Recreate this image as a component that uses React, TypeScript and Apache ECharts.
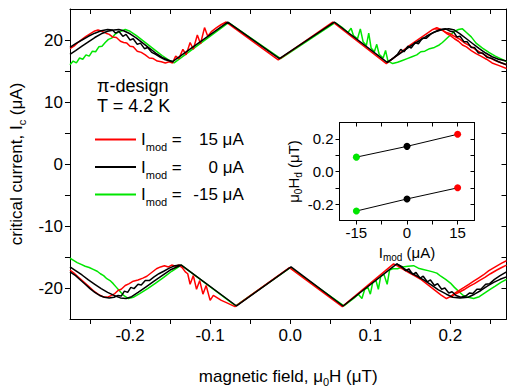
import React, { useEffect, useRef } from "react";
import * as echarts from "echarts";

const FONT = "'Liberation Sans', Arial, Helvetica, sans-serif";
const RED = "#ff0000";
const BLACK = "#000000";
const GREEN = "#00e600";

// Critical current vs. field, positive branch (µT, µA)
const redUpA: number[][] = [
  [-0.275, 18.6], [-0.27, 19.0], [-0.265, 19.6], [-0.26, 20.1], [-0.255, 20.6], [-0.25, 21.0],
  [-0.245, 21.4], [-0.24, 21.6], [-0.235, 21.4], [-0.23, 21.1], [-0.226, 20.9], [-0.222, 20.5],
  [-0.217, 20.4], [-0.212, 19.8], [-0.208, 19.6], [-0.204, 19.5], [-0.2, 19.0], [-0.196, 18.9],
  [-0.191, 18.2], [-0.186, 18.0], [-0.181, 17.6], [-0.176, 17.1], [-0.171, 17.0], [-0.166, 16.6],
  [-0.161, 16.5], [-0.156, 16.3], [-0.151, 16.5], [-0.147, 16.3], [-0.143, 17.4], [-0.139, 17.0],
  [-0.134, 18.5], [-0.13, 17.6], [-0.125, 19.6], [-0.121, 18.5], [-0.116, 20.8], [-0.112, 19.4],
  [-0.107, 22.0], [-0.103, 20.6], [-0.098, 21.4], [-0.092, 22.0], [-0.086, 22.5], [-0.08, 22.9],
  [-0.015, 16.8], [0.053, 22.9], [0.12, 16.2], [0.13, 17.2], [0.14, 18.2], [0.15, 19.2],
  [0.16, 20.1], [0.17, 21.0], [0.178, 21.7], [0.183, 22.0], [0.19, 21.6], [0.196, 21.0],
  [0.2, 20.7], [0.205, 20.2], [0.21, 19.8], [0.215, 19.2], [0.22, 18.9], [0.226, 18.3],
  [0.232, 17.8], [0.238, 17.4], [0.245, 16.9], [0.252, 16.3], [0.26, 15.9], [0.27, 15.4],
];
const redUpB: number[][] = [
  [0.18, 21.8], [0.188, 21.7], [0.195, 21.2], [0.2, 21.0], [0.205, 20.6], [0.212, 20.1],
  [0.218, 19.5], [0.225, 19.0], [0.232, 18.4], [0.24, 17.8], [0.248, 17.2], [0.256, 16.7],
  [0.264, 16.3], [0.27, 16.0],
];
const blackUpA: number[][] = [
  [-0.275, 17.7], [-0.268, 18.3], [-0.26, 19.0], [-0.252, 19.7], [-0.244, 20.4], [-0.236, 21.0],
  [-0.228, 21.4], [-0.22, 21.6], [-0.214, 21.7], [-0.208, 21.5], [-0.2, 21.0], [-0.192, 20.3],
  [-0.184, 19.5], [-0.176, 18.7], [-0.168, 17.9], [-0.16, 17.2], [-0.153, 16.8], [-0.147, 16.5],
  [-0.078, 22.9], [-0.0135, 17.0], [0.055, 22.9], [0.121, 16.4], [0.13, 17.2], [0.14, 18.1],
  [0.15, 19.0], [0.16, 19.8], [0.17, 20.6], [0.18, 21.3], [0.19, 21.7], [0.198, 21.8],
  [0.205, 21.6], [0.212, 21.0], [0.22, 20.2], [0.228, 19.4], [0.236, 18.6], [0.244, 17.9],
  [0.252, 17.3], [0.26, 16.9], [0.27, 16.6],
];
const blackUpB: number[][] = [
  [-0.275, 18.8], [-0.268, 19.4], [-0.26, 20.0], [-0.252, 20.6], [-0.244, 21.1], [-0.236, 21.5],
  [-0.228, 21.7], [-0.222, 21.6], [-0.218, 21.1], [-0.214, 21.4], [-0.209, 20.6], [-0.205, 20.9],
  [-0.2, 20.0], [-0.196, 20.2], [-0.191, 19.3], [-0.187, 19.5], [-0.182, 18.6], [-0.178, 18.8],
  [-0.173, 18.0], [-0.168, 17.7], [-0.162, 17.2], [-0.156, 16.8], [-0.15, 16.6], [-0.146, 16.5],
];
const blackUpC: number[][] = [
  [0.121, 16.4], [0.128, 17.0], [0.134, 17.7], [0.138, 18.5], [0.142, 18.1], [0.147, 19.0],
  [0.151, 18.7], [0.156, 19.6], [0.16, 19.4], [0.165, 20.3], [0.17, 20.3], [0.176, 21.0],
  [0.182, 21.4], [0.188, 21.7], [0.194, 21.8], [0.2, 21.4], [0.204, 21.3], [0.208, 20.5],
  [0.212, 20.6], [0.217, 19.7], [0.221, 19.7], [0.226, 18.8], [0.23, 18.8], [0.235, 17.9],
  [0.24, 17.9], [0.246, 17.2], [0.252, 17.0], [0.26, 16.5], [0.27, 16.0],
];
const greenUp: number[][] = [
  [-0.275, 16.0], [-0.271, 16.6], [-0.267, 16.3], [-0.263, 17.1], [-0.259, 16.9], [-0.255, 17.6],
  [-0.251, 17.4], [-0.247, 18.2], [-0.243, 18.1], [-0.239, 18.9], [-0.235, 19.0], [-0.231, 19.6],
  [-0.227, 20.1], [-0.223, 20.3], [-0.219, 20.9], [-0.214, 21.3], [-0.206, 21.7], [-0.2, 21.4],
  [-0.192, 20.7], [-0.184, 19.9], [-0.176, 19.1], [-0.168, 18.3], [-0.16, 17.5], [-0.152, 16.8],
  [-0.145, 16.3], [-0.077, 22.8], [-0.012, 17.0], [0.056, 22.8], [0.066, 21.9], [0.072, 21.2],
  [0.076, 21.9], [0.079, 20.7], [0.084, 20.2], [0.0875, 21.8], [0.091, 19.7], [0.095, 19.1],
  [0.098, 21.1], [0.101, 18.7], [0.105, 18.1], [0.108, 19.3], [0.111, 17.7], [0.116, 17.1],
  [0.119, 18.3], [0.122, 16.6], [0.128, 16.2], [0.134, 16.4], [0.14, 16.7], [0.146, 17.0],
  [0.152, 17.3], [0.158, 17.6], [0.163, 18.1], [0.168, 18.2], [0.174, 18.6], [0.18, 18.8],
  [0.186, 19.2], [0.19, 19.6], [0.195, 20.2], [0.2, 20.8], [0.205, 21.4], [0.21, 21.7],
  [0.215, 21.8], [0.22, 21.2], [0.226, 20.5], [0.232, 19.5], [0.24, 18.7], [0.248, 18.0],
  [0.256, 17.4], [0.264, 16.9], [0.27, 16.5],
];

// Negative branch
const redDownA: number[][] = [
  [-0.275, -17.1], [-0.27, -17.6], [-0.264, -18.3], [-0.258, -19.0], [-0.252, -19.7], [-0.246, -20.4],
  [-0.24, -21.0], [-0.234, -21.4], [-0.228, -21.5], [-0.223, -21.2], [-0.219, -20.9], [-0.215, -20.4],
  [-0.211, -20.2], [-0.206, -19.6], [-0.201, -19.3], [-0.196, -18.9], [-0.19, -18.7], [-0.184, -18.4],
  [-0.179, -18.1], [-0.175, -17.7], [-0.171, -17.3], [-0.167, -16.9], [-0.162, -16.6], [-0.157, -16.4],
  [-0.152, -16.6], [-0.148, -16.3], [-0.143, -16.5], [-0.139, -16.3], [-0.135, -16.7], [-0.131, -17.4],
  [-0.128, -17.7], [-0.125, -19.4], [-0.121, -18.0], [-0.117, -20.2], [-0.113, -18.8], [-0.109, -21.0],
  [-0.105, -19.6], [-0.1, -22.0], [-0.096, -21.2], [-0.092, -21.5], [-0.086, -22.0], [-0.079, -22.4],
  [-0.069, -23.0], [-0.001, -16.7], [0.065, -23.0], [0.129, -16.1], [0.135, -16.5], [0.14, -16.9],
  [0.148, -17.5], [0.156, -18.1], [0.164, -18.7], [0.172, -19.5], [0.18, -20.3], [0.188, -21.1],
  [0.195, -21.7], [0.2, -21.4], [0.206, -20.8], [0.212, -20.3], [0.217, -19.9], [0.223, -19.4],
  [0.229, -18.9], [0.235, -18.4], [0.241, -17.9], [0.248, -17.2], [0.256, -16.6], [0.264, -16.0],
  [0.27, -15.6],
];
const redDownB: number[][] = [
  [0.2, -21.5], [0.206, -21.0], [0.212, -20.6], [0.218, -20.2], [0.224, -19.7], [0.23, -19.3],
  [0.236, -18.8], [0.243, -18.3], [0.25, -17.7], [0.258, -17.1], [0.264, -16.7], [0.27, -16.3],
];
const blackDownA: number[][] = [
  [-0.275, -16.6], [-0.268, -17.2], [-0.26, -17.9], [-0.252, -18.7], [-0.244, -19.4], [-0.236, -20.1],
  [-0.228, -20.7], [-0.22, -21.2], [-0.212, -21.6], [-0.205, -21.7], [-0.198, -21.4], [-0.19, -20.7],
  [-0.18, -19.8], [-0.17, -18.9], [-0.16, -18.0], [-0.15, -17.1], [-0.136, -16.3], [-0.067, -22.9],
  [0.001, -16.6], [0.066, -22.9], [0.133, -16.1], [0.14, -16.7], [0.15, -17.5], [0.16, -18.2],
  [0.168, -18.8], [0.176, -19.5], [0.185, -20.3], [0.195, -21.0], [0.203, -21.5], [0.212, -21.6],
  [0.222, -21.5], [0.23, -21.0], [0.238, -20.4], [0.246, -19.7], [0.254, -19.1], [0.262, -18.6],
  [0.27, -18.2],
];
const blackDownB: number[][] = [
  [-0.275, -17.4], [-0.268, -18.0], [-0.262, -18.7], [-0.256, -19.4], [-0.25, -20.1], [-0.244, -20.7],
  [-0.238, -21.2], [-0.232, -21.5], [-0.226, -21.6], [-0.22, -21.5], [-0.215, -21.2], [-0.211, -21.3],
  [-0.207, -20.5], [-0.203, -20.7], [-0.199, -19.9], [-0.195, -20.1], [-0.19, -19.4], [-0.186, -19.5],
  [-0.181, -18.8], [-0.176, -18.8], [-0.17, -18.2], [-0.164, -17.7], [-0.158, -17.3], [-0.151, -16.8],
  [-0.144, -16.4], [-0.137, -16.3],
];
const blackDownC: number[][] = [
  [0.133, -16.1], [0.139, -16.5], [0.144, -17.2], [0.148, -16.9], [0.153, -17.8], [0.157, -17.5],
  [0.162, -18.4], [0.166, -18.1], [0.171, -19.0], [0.175, -18.7], [0.18, -19.6], [0.184, -19.3],
  [0.189, -20.2], [0.193, -20.0], [0.198, -20.8], [0.202, -20.6], [0.207, -21.2], [0.213, -21.5],
  [0.219, -21.3], [0.224, -20.8], [0.228, -20.9], [0.233, -20.2], [0.238, -20.2], [0.244, -19.4],
  [0.249, -19.3], [0.255, -18.6], [0.262, -18.0], [0.27, -17.4],
];
const greenDown: number[][] = [
  [-0.275, -15.2], [-0.271, -15.5], [-0.266, -15.9], [-0.261, -16.2], [-0.256, -16.5], [-0.251, -16.7],
  [-0.246, -17.0], [-0.241, -17.3], [-0.237, -17.7], [-0.233, -18.0], [-0.229, -18.5], [-0.225, -18.8],
  [-0.221, -19.3], [-0.217, -19.9], [-0.213, -20.5], [-0.208, -21.2], [-0.202, -21.7], [-0.196, -21.5],
  [-0.188, -20.9], [-0.178, -20.1], [-0.168, -19.2], [-0.158, -18.3], [-0.148, -17.3], [-0.136, -16.3],
  [-0.068, -22.9], [0.0, -16.7], [0.067, -22.9], [0.075, -22.1], [0.08, -21.6], [0.085, -21.0],
  [0.0895, -21.7], [0.093, -20.2], [0.097, -19.9], [0.1, -21.0], [0.103, -19.1], [0.107, -18.8],
  [0.11, -20.2], [0.113, -18.1], [0.117, -17.8], [0.121, -19.4], [0.124, -17.1], [0.128, -16.9],
  [0.134, -16.9], [0.14, -16.6], [0.147, -16.5], [0.154, -16.4], [0.16, -16.8], [0.166, -17.0],
  [0.172, -17.2], [0.178, -17.4], [0.183, -17.6], [0.188, -18.1], [0.194, -18.6], [0.2, -19.2],
  [0.205, -19.9], [0.21, -20.5], [0.216, -21.2], [0.222, -21.5], [0.229, -21.7], [0.236, -21.4],
  [0.243, -20.8], [0.25, -20.2], [0.256, -19.7], [0.263, -19.1], [0.27, -18.6],
];

// Inset: field offset of the two branches vs. modulation current
const insetCurrents = [-15, 0, 15];
const insetUpper = [0.088, 0.154, 0.228];
const insetLower = [-0.242, -0.168, -0.1];
const insetColors = [GREEN, BLACK, RED];

// Axis ticks and labels
const xTickValues = [-0.25, -0.2, -0.15, -0.1, -0.05, 0, 0.05, 0.1, 0.15, 0.2, 0.25];
const xLabelValues = [-0.2, -0.1, 0, 0.1, 0.2];
const yTickValues = [-20, -15, -10, -5, 0, 5, 10, 15, 20];
const yLabelValues = [-20, -10, 0, 10, 20];
const insetXTicks = [-15, -7.5, 0, 7.5, 15];
const insetXLabels = [-15, 0, 15];
const insetYTicks = [-0.2, -0.1, 0, 0.1, 0.2];
const insetYLabels = [-0.2, 0, 0.2];

const legendNames = ["15", "0", "-15"];
const legendValues: Record<string, string> = { "15": "15 μA", "0": "0 μA", "-15": "-15 μA" };

function richSub(size: number, lh: number, subSize: number) {
  return {
    a: { fontFamily: FONT, fontSize: size, color: "#000", lineHeight: lh },
    s: { fontFamily: FONT, fontSize: subSize, color: "#000", lineHeight: subSize, verticalAlign: "bottom" },
  };
}

// Mirrored frame axis (top / right) with inward ticks and no labels
function frameAxis(grid: number, min: number, max: number, ticks: number[], len: number, position: string) {
  return {
    type: "value",
    gridIndex: grid,
    min,
    max,
    position,
    axisLine: { show: true, onZero: false, lineStyle: { color: "#000", width: 1 } },
    axisTick: { show: true, inside: true, length: len, customValues: ticks, lineStyle: { color: "#000", width: 1 } },
    axisLabel: { show: false },
    splitLine: { show: false },
  };
}

export default function App() {
  const ref = useRef<HTMLDivElement>(null);

  useEffect(() => {
    if (!ref.current) return;
    const chart = echarts.init(ref.current, undefined, { renderer: "svg" });

    const mainLine = (name: string, data: number[][], color: string) => ({
      type: "line",
      name,
      xAxisIndex: 0,
      yAxisIndex: 0,
      data,
      symbol: "none",
      showSymbol: false,
      color,
      lineStyle: { color, width: 1.5 },
      silent: true,
      emphasis: { disabled: true },
      clip: true,
    });

    const insetLine = (name: string, values: number[]) => ({
      type: "line",
      name,
      xAxisIndex: 2,
      yAxisIndex: 2,
      data: insetCurrents.map((c, i) => ({ value: [c, values[i]], itemStyle: { color: insetColors[i] } })),
      symbol: "circle",
      symbolSize: 7,
      showSymbol: true,
      lineStyle: { color: "#000", width: 1 },
      itemStyle: { color: "#000" },
      silent: true,
      emphasis: { disabled: true },
      z: 5,
    });

    const option = {
      animation: false,
      backgroundColor: "#ffffff",
      grid: [
        { left: 69, top: 9, width: 437.5, height: 325, containLabel: false },
        { left: 339.5, top: 122.5, width: 135, height: 98, containLabel: false },
      ],
      legend: {
        data: legendNames,
        orient: "vertical",
        left: 95,
        top: 131,
        padding: 0,
        itemGap: 6,
        itemWidth: 41,
        itemHeight: 2,
        icon: "rect",
        selectedMode: false,
        formatter: (name: string) => `{i|I}{s|mod}{e| =}{v|${legendValues[name]}}`,
        textStyle: {
          fontFamily: FONT,
          fontSize: 17,
          color: "#000",
          rich: {
            i: { fontFamily: FONT, fontSize: 17, color: "#000", lineHeight: 26 },
            s: { fontFamily: FONT, fontSize: 11, color: "#000", lineHeight: 11, verticalAlign: "bottom" },
            e: { fontFamily: FONT, fontSize: 17, color: "#000", lineHeight: 26 },
            v: { fontFamily: FONT, fontSize: 17, color: "#000", lineHeight: 26, width: 62, align: "right" },
          },
        },
      },
      graphic: [
        { type: "text", left: 97, top: 77, style: { text: "π-design", font: `18px ${FONT}`, fill: "#000" } },
        { type: "text", left: 97, top: 97, style: { text: "T = 4.2 K", font: `18px ${FONT}`, fill: "#000" } },
      ],
      xAxis: [
        {
          type: "value",
          gridIndex: 0,
          min: -0.275,
          max: 0.27,
          position: "bottom",
          axisLine: { show: true, onZero: false, lineStyle: { color: "#000", width: 1 } },
          axisTick: { show: true, inside: false, length: 5, customValues: xTickValues, lineStyle: { color: "#000" } },
          axisLabel: {
            show: true,
            customValues: xLabelValues,
            formatter: (v: number) => v.toFixed(1),
            margin: 8,
            fontFamily: FONT,
            fontSize: 17,
            color: "#000",
          },
          splitLine: { show: false },
          name: "{a|magnetic field, μ}{s|0}{a|H (μT)}",
          nameLocation: "middle",
          nameGap: 46,
          nameTextStyle: { rich: richSub(17, 22, 11) },
        },
        frameAxis(0, -0.275, 0.27, xTickValues, 5, "top"),
        {
          type: "value",
          gridIndex: 1,
          min: -20,
          max: 20,
          position: "bottom",
          axisLine: { show: true, onZero: false, lineStyle: { color: "#000", width: 1 } },
          axisTick: { show: true, inside: false, length: 4, customValues: insetXTicks, lineStyle: { color: "#000" } },
          axisLabel: {
            show: true,
            customValues: insetXLabels,
            formatter: (v: number) => String(v),
            margin: 4,
            fontFamily: FONT,
            fontSize: 15,
            color: "#000",
          },
          splitLine: { show: false },
          name: "{a|I}{s|mod}{a| (μA)}",
          nameLocation: "middle",
          nameGap: 22,
          nameTextStyle: { rich: richSub(15, 20, 10) },
        },
        frameAxis(1, -20, 20, insetXTicks, 4, "top"),
      ],
      yAxis: [
        {
          type: "value",
          gridIndex: 0,
          min: -25,
          max: 25,
          position: "left",
          axisLine: { show: true, onZero: false, lineStyle: { color: "#000", width: 1 } },
          axisTick: { show: true, inside: false, length: 5, customValues: yTickValues, lineStyle: { color: "#000" } },
          axisLabel: {
            show: true,
            customValues: yLabelValues,
            formatter: (v: number) => String(v),
            margin: 7,
            fontFamily: FONT,
            fontSize: 17,
            color: "#000",
          },
          splitLine: { show: false },
          name: "{a|critical current, I}{s|c}{a| (μA)}",
          nameLocation: "middle",
          nameRotate: 90,
          nameGap: 42,
          nameTextStyle: { rich: richSub(17, 22, 11) },
        },
        frameAxis(0, -25, 25, yTickValues, 5, "right"),
        {
          type: "value",
          gridIndex: 1,
          min: -0.3,
          max: 0.3,
          position: "left",
          axisLine: { show: true, onZero: false, lineStyle: { color: "#000", width: 1 } },
          axisTick: { show: true, inside: false, length: 4, customValues: insetYTicks, lineStyle: { color: "#000" } },
          axisLabel: {
            show: true,
            customValues: insetYLabels,
            formatter: (v: number) => v.toFixed(1),
            margin: 6,
            fontFamily: FONT,
            fontSize: 15,
            color: "#000",
          },
          splitLine: { show: false },
          name: "{a|μ}{s|0}{a|H}{s|d}{a| (μT)}",
          nameLocation: "middle",
          nameRotate: 90,
          nameGap: 33,
          nameTextStyle: { rich: richSub(15, 20, 10) },
        },
        frameAxis(1, -0.3, 0.3, insetYTicks, 4, "right"),
      ],
      series: [
        mainLine("-15", greenUp, GREEN),
        mainLine("-15", greenDown, GREEN),
        mainLine("15", redUpA, RED),
        mainLine("15", redUpB, RED),
        mainLine("15", redDownA, RED),
        mainLine("15", redDownB, RED),
        mainLine("0", blackUpA, BLACK),
        mainLine("0", blackUpB, BLACK),
        mainLine("0", blackUpC, BLACK),
        mainLine("0", blackDownA, BLACK),
        mainLine("0", blackDownB, BLACK),
        mainLine("0", blackDownC, BLACK),
        insetLine("upper", insetUpper),
        insetLine("lower", insetLower),
      ],
    };

    chart.setOption(option as any);
    return () => chart.dispose();
  }, []);

  return (
    <div
      ref={ref}
      style={{ position: "absolute", left: 0, top: 0, width: 507, height: 392, background: "#fff" }}
    />
  );
}
